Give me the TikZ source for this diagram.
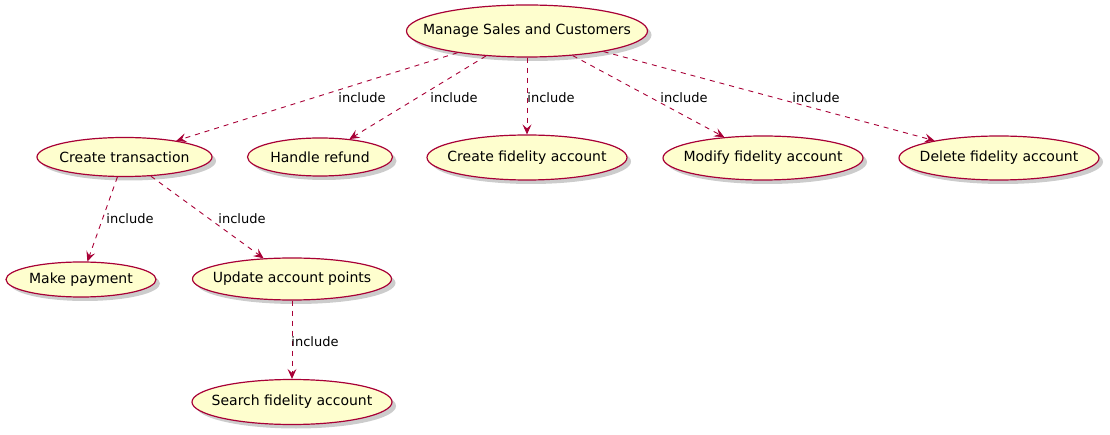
\documentclass[tikz,border=0pt]{standalone}
\usepackage{fontspec}
\setmainfont{DejaVu Sans}
\usetikzlibrary{shapes.geometric,arrows.meta,shadows}
\definecolor{ucfill}{HTML}{FEFECE}
\definecolor{ucline}{HTML}{A80036}
\newcommand{\uctext}[1]{\makebox[0pt]{#1}}
\tikzset{
  uc/.style={ellipse, draw=ucline, fill=ucfill, line width=1.2pt, inner sep=0pt,
    font=\fontsize{14}{16}\selectfont,
    drop shadow={shadow xshift=4pt, shadow yshift=-4pt, fill=black, opacity=0.2}},
  inc/.style={draw=ucline, line width=0.9pt, dash pattern=on 5pt off 5pt,
    -{Stealth[length=10pt,width=9pt,inset=4pt]}},
  lbl/.style={font=\fontsize{13}{15}\selectfont, inner sep=0pt}
}
\begin{document}
\begin{tikzpicture}[x=1pt,y=-1pt]
\useasboundingbox (0,0) rectangle (1110,435);
\node[uc, minimum width=241pt, minimum height=52pt] (msc) at (527,31) {\uctext{Manage Sales and Customers}};
\node[uc, minimum width=175pt, minimum height=39pt] (ct) at (124.5,157) {\uctext{Create transaction}};
\node[uc, minimum width=145pt, minimum height=38pt] (hr) at (320,157) {\uctext{Handle refund}};
\node[uc, minimum width=200pt, minimum height=45pt] (cfa) at (527,157.5) {\uctext{Create fidelity account}};
\node[uc, minimum width=200pt, minimum height=44pt] (mfa) at (763,158) {\uctext{Modify fidelity account}};
\node[uc, minimum width=200pt, minimum height=44pt] (dfa) at (999,158) {\uctext{Delete fidelity account}};
\node[uc, minimum width=150pt, minimum height=35pt] (mp) at (81,279.5) {\uctext{Make payment}};
\node[uc, minimum width=199pt, minimum height=42pt] (uap) at (292,279) {\uctext{Update account points}};
\node[uc, minimum width=200pt, minimum height=45pt] (sfa) at (292,402) {\uctext{Search fidelity account}};

\draw[inc] (msc) -- (ct);
\draw[inc] (msc) -- (hr);
\draw[inc] (msc) -- (cfa);
\draw[inc] (msc) -- (mfa);
\draw[inc] (msc) -- (dfa);
\draw[inc] (ct) -- (mp);
\draw[inc] (ct) -- (uap);
\draw[inc] (uap) -- (sfa);

\node[lbl] (l1) at (362,98) {include};
\node[lbl] (l2) at (454,98) {include};
\node[lbl] (l3) at (551,98) {include};
\node[lbl] (l4) at (684,98) {include};
\node[lbl] (l5) at (816,98) {include};
\node[lbl] (l6) at (130,219) {include};
\node[lbl] (l7) at (242,219) {include};
\node[lbl] (l8) at (315,342) {include};
\end{tikzpicture}
\end{document}
